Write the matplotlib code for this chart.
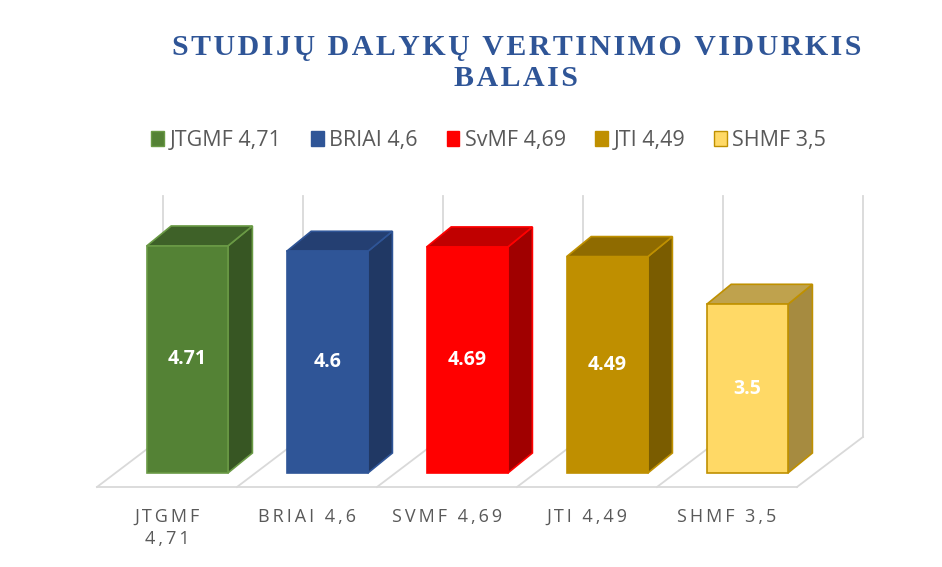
import numpy as np
import matplotlib
matplotlib.use("Agg")
from matplotlib import pyplot as plt
from matplotlib.patches import Polygon, Patch

# data
categories = ["JTGMF\n4,71", "BRIAI 4,6", "SVMF 4,69", "JTI 4,49", "SHMF 3,5"]
legend_labels = ["JTGMF 4,71", "BRIAI 4,6", "SvMF 4,69", "JTI 4,49", "SHMF 3,5"]
values = [4.71, 4.6, 4.69, 4.49, 3.5]
value_labels = ["4.71", "4.6", "4.69", "4.49", "3.5"]

# colours: front, top, side, edge
fronts = ["#548235", "#2f5597", "#ff0000", "#bf8f00", "#ffd966"]
tops = ["#3e6128", "#243f72", "#c00000", "#8f6b00", "#bfa24d"]
sides = ["#375623", "#203864", "#a00000", "#7a5c00", "#a68b40"]
edges = ["#6a9a45", "#2f5597", "#ff0000", "#bf9000", "#bf9000"]

ymax = 5
# fake 3d geometry (data units)
floor_y = -0.29
floor_dx, floor_dy = 0.471, 1.037
bar_shift = 0.145
bar_w = 0.58
dep_dx, dep_dy = 0.175, 0.415
grid_col = "#d9d9d9"


def spaced(s, sep):
    return "\n".join(sep.join(ch for ch in line) for line in s.split("\n"))


fig = plt.figure(figsize=(9.42, 5.67), dpi=100)
ax = fig.add_axes([0, 0, 1, 1])
ax.set_xlim(-167 / 140, 775 / 140)
ax.set_ylim(-94 / 48.2, 473 / 48.2)
ax.axis("off")

n = len(values)
x = np.arange(n)

# back wall + floor lines
for k in range(n + 1):
    xb = k - 0.5
    ax.plot([xb + floor_dx, xb + floor_dx], [floor_y + floor_dy, ymax + floor_y + floor_dy],
            color=grid_col, lw=1.3, zorder=1)
    ax.plot([xb, xb + floor_dx], [floor_y, floor_y + floor_dy], color=grid_col, lw=1.3, zorder=1)
ax.plot([-0.5, n - 0.5], [floor_y, floor_y], color=grid_col, lw=1.3, zorder=1)

# bars
bars = ax.bar(x + bar_shift, values, width=bar_w, color=fronts, edgecolor=edges,
              linewidth=1.2, zorder=3)
for i, (b, v) in enumerate(zip(bars, values)):
    xl = b.get_x()
    xr = xl + b.get_width()
    side = Polygon([(xr, 0), (xr + dep_dx, dep_dy), (xr + dep_dx, v + dep_dy), (xr, v)],
                   closed=True, facecolor=sides[i], edgecolor=edges[i], lw=1.2, zorder=2.9)
    top = Polygon([(xl, v), (xr, v), (xr + dep_dx, v + dep_dy), (xl + dep_dx, v + dep_dy)],
                  closed=True, facecolor=tops[i], edgecolor=edges[i], lw=1.2, zorder=2.9)
    ax.add_patch(side)
    ax.add_patch(top)
    ax.text(xl + bar_w / 2, v / 2, value_labels[i], ha="center", va="center",
            color="white", fontsize=14, fontweight="bold", family=["Open Sans", "DejaVu Sans"],
            zorder=4)

# category labels, letter spaced
for i, c in enumerate(categories):
    ax.text(i, -0.72, spaced(c, "\u2009"), ha="center", va="top", color="#595959", fontsize=13,
            family=["Open Sans", "DejaVu Sans"], linespacing=1.3)

# title
fig.text(0.548, 0.889, spaced("STUDIJŲ DALYKŲ VERTINIMO VIDURKIS\nBALAIS", "\u200a"),
         ha="center", va="center", color="#2f5597", fontsize=21.5, fontweight="bold",
         family=["Liberation Serif", "DejaVu Serif"], linespacing=1.22)

# legend
handles = [Patch(facecolor=fronts[i], edgecolor=edges[i]) for i in range(n)]
fig.legend(handles, legend_labels, loc="center", bbox_to_anchor=(0.519, 0.752), ncol=5,
           frameon=False, handlelength=0.6, handleheight=0.7, handletextpad=0.25,
           columnspacing=1.35, prop={"family": "Open Sans", "size": 15.5}, labelcolor="#595959")

plt.savefig("out.png", dpi=100)
